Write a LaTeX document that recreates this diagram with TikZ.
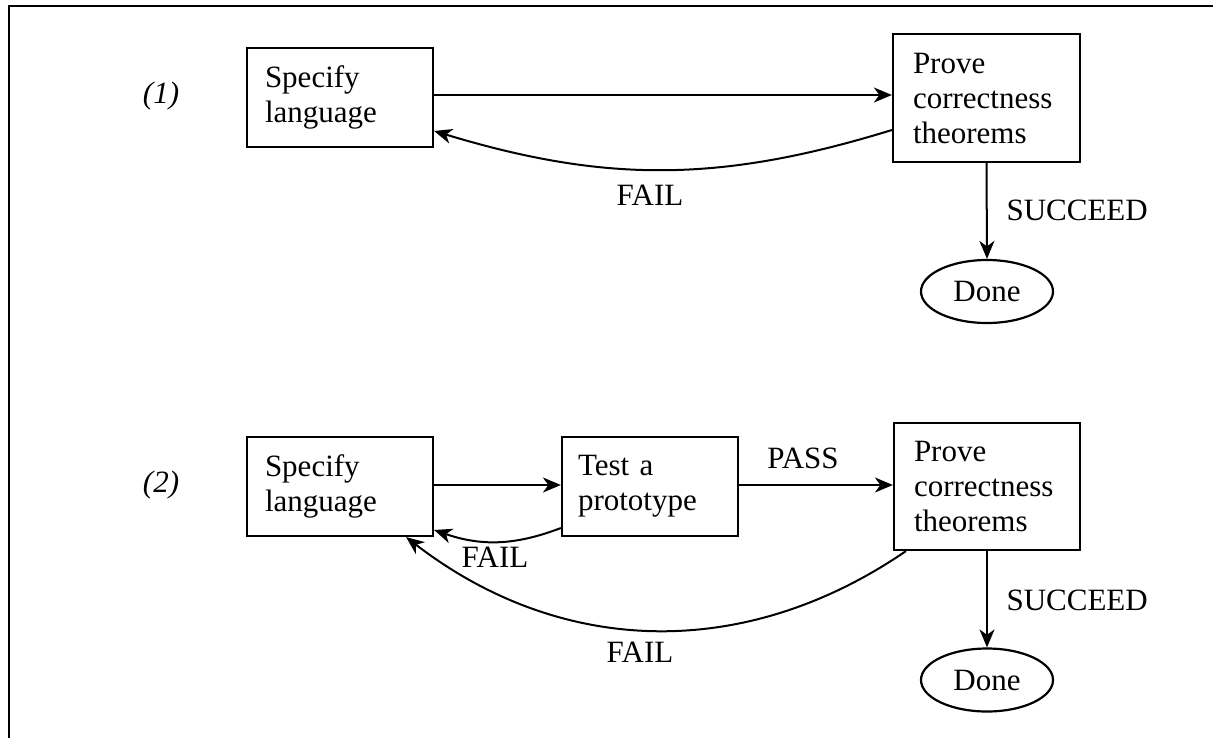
\documentclass[tikz,border=0pt]{standalone}
\usepackage{fontspec}
\setmainfont{Liberation Serif}
\usetikzlibrary{arrows.meta,shapes.geometric}

\begin{document}
\begin{tikzpicture}[x=1pt,y=1pt,
  every node/.style={font=\fontsize{31}{35}\selectfont},
  stepbox/.style={draw, line width=2.2pt, align=left, inner ysep=0pt},
  donebox/.style={draw, ellipse, line width=2.2pt, minimum width=132pt, minimum height=63pt, inner sep=0pt},
  conn/.style={line width=2pt, -{Stealth[length=18pt,width=15pt,inset=5.5pt]}},
  tag/.style={font=\fontsize{31}{35}\selectfont\itshape}
]
\useasboundingbox (0,0) rectangle (1213,-737);
\clip (0,0) rectangle (1213,-737);

% outer frame
\draw[line width=2.4pt] (9,-760) -- (9,-6) -- (1240,-6);

% (1) direct approach
\node[tag] (n1) at (161,-96) {(1)};
\node[stepbox, text width=150pt, inner xsep=18pt, minimum height=99pt] (s1) at (340,-97.5) {Specify\\language};
\node[stepbox, text width=147pt, inner xsep=20pt, minimum height=128pt] (p1) at (986.5,-98) {Prove\\correctness\\theorems};
\node[donebox] (d1) at (987,-291.5) {Done};

\draw[conn] ([yshift=2.5pt]s1.east) -- ([yshift=2.5pt]s1.east -| p1.west);
\draw[conn] ([yshift=-32pt]p1.west) to[bend left=17] ([yshift=-33.5pt]s1.east);
\node (f1) at (650,-195) {FAIL};
\draw[conn] (p1.south) -- (d1.north);
\node[anchor=west] (u1) at (1003,-210) {SUCCEED};

% (2) with a prototype
\node[tag] (n2) at (161,-485) {(2)};
\node[stepbox, text width=150pt, inner xsep=18pt, minimum height=99pt] (s2) at (340,-486.5) {Specify\\language};
\node[stepbox, text width=144pt, inner xsep=16pt, minimum height=99pt] (t2) at (650,-486.5) {Test a\\prototype};
\node[stepbox, text width=146pt, inner xsep=20pt, minimum height=127pt] (p2) at (987,-486.5) {Prove\\correctness\\theorems};
\node[donebox] (d2) at (987,-680) {Done};

\draw[conn] ([yshift=1.5pt]s2.east) -- ([yshift=1.5pt]s2.east -| t2.west);
\draw[conn] ([yshift=1.5pt]t2.east) -- ([yshift=1.5pt]t2.east -| p2.west);
\node (pass) at (803,-458) {PASS};
\draw[conn] ([yshift=-41.5pt]t2.west) to[bend left=20] ([yshift=-43.5pt]s2.east);
\node (f2) at (495,-557) {FAIL};
\draw[conn] ([xshift=13pt]p2.south west) to[bend left=36] ([xshift=-28pt]s2.south east);
\node (f3) at (640,-652) {FAIL};
\draw[conn] (p2.south) -- (d2.north);
\node[anchor=west] (u2) at (1003,-600) {SUCCEED};
\end{tikzpicture}
\end{document}
